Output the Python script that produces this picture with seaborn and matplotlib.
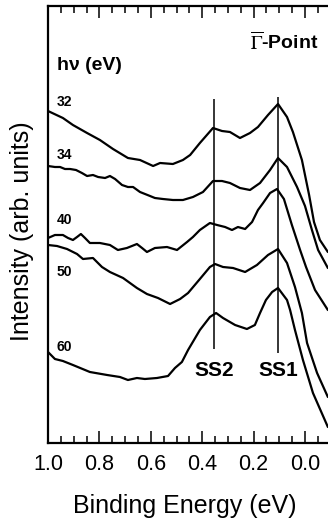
import numpy as np
import pandas as pd
import matplotlib
matplotlib.use("Agg")
import matplotlib.pyplot as plt
import seaborn as sns
from matplotlib.ticker import MultipleLocator, FixedLocator, FixedFormatter

# ---------------- data ----------------
photon_energies = ["32", "34", "40", "50", "60"]

E_32 = [1.000, 0.942, 0.903, 0.848, 0.798, 0.747, 0.689, 0.642, 0.591, 0.564,
        0.514, 0.475, 0.447, 0.409, 0.358, 0.323, 0.292, 0.253, 0.214, 0.183,
        0.144, 0.105, 0.070, 0.047, 0.012, -0.016, -0.035, -0.058, -0.089]
I_32 = [332, 325, 318, 310, 303, 294, 285, 283, 277, 280,
        279, 283, 288, 300, 315, 312, 311, 305, 310, 316,
        328, 339, 326, 311, 283, 248, 221, 203, 191]

E_34 = [1.000, 0.973, 0.953, 0.934, 0.914, 0.891, 0.868, 0.848, 0.825, 0.805,
        0.778, 0.759, 0.739, 0.712, 0.689, 0.669, 0.642, 0.603, 0.584, 0.553,
        0.514, 0.475, 0.436, 0.397, 0.358, 0.323, 0.292, 0.253, 0.214, 0.175,
        0.136, 0.105, 0.070, 0.031, 0.000, -0.027, -0.051, -0.089]
I_34 = [277, 276, 276, 274, 274, 273, 270, 267, 268, 266,
        265, 267, 264, 258, 256, 256, 251, 247, 245, 244,
        243, 243, 246, 251, 262, 262, 260, 255, 253, 260,
        273, 285, 276, 256, 237, 213, 193, 175]

E_40 = [1.000, 0.973, 0.942, 0.922, 0.903, 0.887, 0.872, 0.856, 0.837, 0.798,
        0.759, 0.728, 0.693, 0.654, 0.634, 0.615, 0.584, 0.537, 0.498, 0.459,
        0.436, 0.409, 0.370, 0.342, 0.311, 0.284, 0.261, 0.233, 0.206, 0.183,
        0.163, 0.136, 0.109, 0.082, 0.051, 0.019, -0.004, -0.039, -0.089]
I_40 = [205, 208, 208, 205, 203, 206, 209, 205, 200, 200,
        198, 193, 195, 199, 195, 191, 195, 196, 193, 201,
        206, 213, 220, 218, 216, 213, 216, 214, 221, 233,
        240, 250, 254, 244, 218, 193, 176, 153, 133]

E_50 = [1.000, 0.965, 0.926, 0.887, 0.864, 0.825, 0.790, 0.759, 0.708, 0.654,
        0.615, 0.572, 0.525, 0.486, 0.455, 0.409, 0.370, 0.350, 0.319, 0.280,
        0.233, 0.187, 0.144, 0.105, 0.070, 0.039, 0.012, -0.008, -0.047, -0.089]
I_50 = [198, 197, 194, 189, 184, 185, 176, 171, 165, 155,
        149, 145, 139, 144, 150, 164, 176, 179, 176, 175,
        171, 178, 188, 194, 180, 156, 130, 100, 70, 46]

E_60 = [1.000, 0.973, 0.942, 0.903, 0.837, 0.770, 0.720, 0.689, 0.654, 0.623,
        0.576, 0.533, 0.506, 0.479, 0.455, 0.432, 0.409, 0.370, 0.346, 0.319,
        0.272, 0.226, 0.195, 0.175, 0.152, 0.128, 0.105, 0.070, 0.058, 0.039,
        0.008, -0.031, -0.089]
I_60 = [91, 84, 82, 78, 71, 68, 66, 63, 65, 64,
        65, 67, 75, 81, 93, 103, 113, 126, 130, 125,
        118, 114, 118, 130, 143, 151, 155, 143, 133, 113,
        83, 50, 16]

label_y = [341, 288, 223, 171, 96]          # positions of the hv labels

peak_names = ["SS2", "SS1"]
peak_E = [0.354, 0.105]
peak_lo = [94, 90]
peak_hi = [344, 346]

xtick_vals = [1.0, 0.8, 0.6, 0.4, 0.2, 0.0]
xtick_labels = ["1.0", "0.8", "0.6", "0.4", "0.2", "0.0"]

# ---------------- style ----------------
sns.set_theme(style="ticks")
plt.rcParams["font.family"] = ["Liberation Sans", "DejaVu Sans"]
plt.rcParams["mathtext.fontset"] = "stix"
plt.rcParams["text.color"] = "black"
plt.rcParams["axes.labelcolor"] = "black"
plt.rcParams["xtick.color"] = "black"
plt.rcParams["ytick.color"] = "black"

fig = plt.figure(figsize=(3.28, 5.25), dpi=100)
W, H = 328, 525
left_px, top_px, bottom_px = 48, 6, 443
right_px = 305 + 0.2 * 257  # axis continues past the figure edge
ax = fig.add_axes([left_px / W, 1 - bottom_px / H,
                   (right_px - left_px) / W, (bottom_px - top_px) / H])

frames = []
for name, E, I in zip(photon_energies, [E_32, E_34, E_40, E_50, E_60],
                      [I_32, I_34, I_40, I_50, I_60]):
    frames.append(pd.DataFrame({"E": E, "I": I, "hv": name}))
df = pd.concat(frames, ignore_index=True)

for name in photon_energies:
    sub = df[df.hv == name]
    sns.lineplot(data=sub, x="E", y="I", color="black", lw=1.6,
                 estimator=None, sort=False, ax=ax, legend=False)

ax.vlines(peak_E, peak_lo, peak_hi, color="black", lw=1.1)

ax.set_xlim(1.0, -0.2)
ax.set_ylim(0, 437)

ax.xaxis.set_major_locator(FixedLocator(xtick_vals))
ax.xaxis.set_major_formatter(FixedFormatter(xtick_labels))
ax.xaxis.set_minor_locator(MultipleLocator(0.05))
ax.tick_params(axis="x", which="both", direction="in", top=True, bottom=True,
               width=1.1, color="black", labelcolor="black")
ax.tick_params(axis="x", which="major", length=8.5, labelsize=15.5, pad=8)
ax.tick_params(axis="x", which="minor", length=5)
ax.set_yticks([])

for s in ["left", "bottom", "top", "right"]:
    ax.spines[s].set_linewidth(1.6)
    ax.spines[s].set_color("black")

ax.set_xlabel("Binding Energy (eV)", fontsize=18, color="black")
ax.xaxis.set_label_coords((185 - left_px) / (right_px - left_px),
                          (bottom_px - 506) / (bottom_px - top_px))
ax.xaxis.label.set_va("center")
ax.set_ylabel("Intensity (arb. units)", fontsize=18, color="black")
ax.yaxis.set_label_coords((22 - left_px) / (right_px - left_px),
                          (bottom_px - 231) / (bottom_px - top_px))
ax.yaxis.label.set_va("center")
ax.yaxis.label.set_ha("center")

for name, y in zip(photon_energies, label_y):
    ax.text(0.966, y, name, fontsize=10, fontweight="bold",
            ha="left", va="center", color="black")

ax.text(0.966, 377, "h\u03bd (eV)", fontsize=14, fontweight="bold",
        ha="left", va="center", color="black")
ax.text(0.214, 401, r"$\overline{\Gamma}$-Point", fontsize=14,
        fontweight="bold", ha="left", va="center", color="black")

for name, e in zip(peak_names, peak_E):
    ax.text(e, 73, name, fontsize=15, fontweight="bold",
            ha="center", va="center", color="black")

fig.savefig("out.png", dpi=100)
